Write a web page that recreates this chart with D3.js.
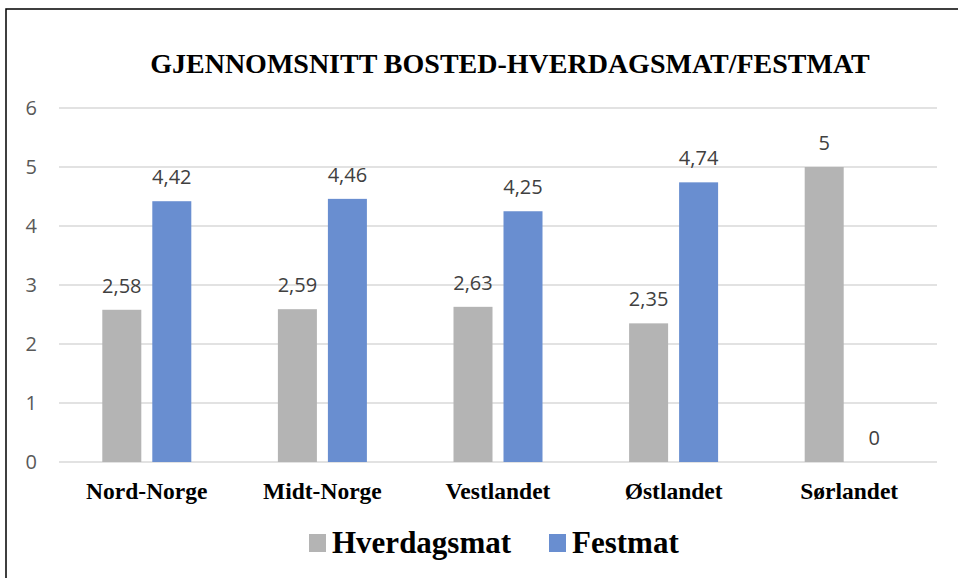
<!DOCTYPE html>
<html lang="no">
<head>
    <meta charset="UTF-8" />
    <title>Gjennomsnitt bosted - hverdagsmat/festmat</title>
    <script src="https://d3js.org/d3.v7.min.js"></script>
    <style>
        body {
            margin: 0;
            background: #fff;
        }
        .tick-label {
            font-family: "Open Sans", "Noto Sans", sans-serif;
            font-size: 20px;
            fill: #595959;
        }
        .value-label {
            font-family: "Open Sans", "Noto Sans", sans-serif;
            font-size: 20px;
            fill: #404040;
        }
        .cat-label {
            font-family: "Liberation Serif", "Times New Roman", serif;
            font-weight: bold;
            font-size: 23.5px;
            fill: #000;
        }
    </style>
</head>
<body>
    <svg id="chart" width="958" height="578"></svg>
    <script>
        var w = 958;
        var h = 578;

        // Data
        var regions = ["Nord-Norge", "Midt-Norge", "Vestlandet", "Østlandet", "Sørlandet"];
        var series = ["Hverdagsmat", "Festmat"];
        var hverdagsmat = [2.58, 2.59, 2.63, 2.35, 5];
        var festmat = [4.42, 4.46, 4.25, 4.74, 0];
        var yTicks = [0, 1, 2, 3, 4, 5, 6];
        var colors = ["#b4b4b4", "#698ed0"];

        var values = [hverdagsmat, festmat];

        var svg = d3.select("#chart");

        // Outer frame
        svg.append("rect")
            .attr("x", 6)
            .attr("y", 9)
            .attr("width", w)
            .attr("height", h)
            .attr("fill", "none")
            .attr("stroke", "#000")
            .attr("stroke-width", 1.5);

        // Title
        svg.append("text")
            .attr("x", 510)
            .attr("y", 73)
            .attr("text-anchor", "middle")
            .style("font-family", "'Liberation Serif', 'Times New Roman', serif")
            .style("font-weight", "bold")
            .style("font-size", "28px")
            .text("GJENNOMSNITT BOSTED-HVERDAGSMAT/FESTMAT");

        var plotLeft = 59, plotRight = 937, plotTop = 108, plotBottom = 462;

        var x0 = d3.scaleBand()
            .domain(regions)
            .range([plotLeft, plotRight])
            .padding(0);

        var x1 = d3.scaleBand()
            .domain(series)
            .range([0, x0.bandwidth()])
            .paddingInner(0.22)
            .paddingOuter(0.866);

        var y = d3.scaleLinear()
            .domain([0, 6])
            .range([plotBottom, plotTop]);

        // Gridlines
        svg.append("g")
            .selectAll("line")
            .data(yTicks)
            .enter()
            .append("line")
            .attr("x1", plotLeft)
            .attr("x2", plotRight)
            .attr("y1", d => y(d))
            .attr("y2", d => y(d))
            .attr("stroke", "#d9d9d9")
            .attr("stroke-width", 1.5);

        // Y tick labels
        svg.append("g")
            .selectAll("text")
            .data(yTicks)
            .enter()
            .append("text")
            .attr("class", "tick-label")
            .attr("x", 37)
            .attr("y", d => y(d))
            .attr("dy", "0.35em")
            .attr("text-anchor", "end")
            .text(d => d);

        // Bars
        var groups = svg.append("g")
            .selectAll("g")
            .data(regions)
            .enter()
            .append("g")
            .attr("transform", d => "translate(" + x0(d) + ",0)");

        var fmt = d => String(d).replace(".", ",");

        groups.selectAll("rect")
            .data((d, i) => series.map((s, j) => ({ s: s, v: values[j][i], c: colors[j] })))
            .enter()
            .append("rect")
            .attr("x", d => x1(d.s))
            .attr("y", d => y(d.v))
            .attr("width", x1.bandwidth())
            .attr("height", d => y(0) - y(d.v))
            .attr("fill", d => d.c);

        groups.selectAll("text")
            .data((d, i) => series.map((s, j) => ({ s: s, v: values[j][i] })))
            .enter()
            .append("text")
            .attr("class", "value-label")
            .attr("x", d => x1(d.s) + x1.bandwidth() / 2)
            .attr("y", d => y(d.v) - 17)
            .attr("text-anchor", "middle")
            .text(d => fmt(d.v));

        // Category labels
        svg.append("g")
            .selectAll("text")
            .data(regions)
            .enter()
            .append("text")
            .attr("class", "cat-label")
            .attr("x", d => x0(d) + x0.bandwidth() / 2)
            .attr("y", 499)
            .attr("text-anchor", "middle")
            .text(d => d);

        // Legend
        var legendItems = [
            { label: series[0], color: colors[0], x: 309 },
            { label: series[1], color: colors[1], x: 549 }
        ];
        var legend = svg.append("g");
        legendItems.forEach(function (it) {
            legend.append("rect")
                .attr("x", it.x)
                .attr("y", 534)
                .attr("width", 17)
                .attr("height", 18)
                .attr("fill", it.color);
            legend.append("text")
                .attr("x", it.x + 23)
                .attr("y", 553)
                .style("font-family", "'Liberation Serif', 'Times New Roman', serif")
                .style("font-weight", "bold")
                .style("font-size", "31px")
                .text(it.label);
        });
    </script>
</body>
</html>
